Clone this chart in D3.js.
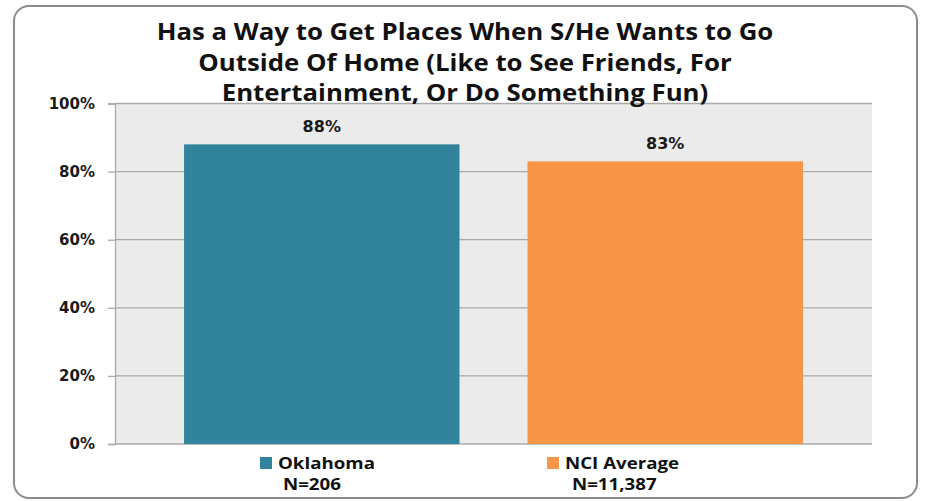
<!DOCTYPE html>
<html>
<head>
<meta charset="utf-8">
<script src="https://cdn.jsdelivr.net/npm/d3@7"></script>
<style>
  html, body { margin: 0; padding: 0; background: #ffffff; }
  svg { display: block; }
</style>
</head>
<body>
<svg id="chart" width="926" height="501"></svg>
<script>
// ---- data ----
const titleLines = [
  "Has a Way to Get Places When S/He Wants to Go",
  "Outside Of Home (Like to See Friends, For",
  "Entertainment, Or Do Something Fun)"
];
const categories = ["Oklahoma", "NCI Average"];
const values = [0.88, 0.83];
const valueLabels = ["88%", "83%"];
const sampleSizes = ["N=206", "N=11,387"];
const yTicks = [0, 0.2, 0.4, 0.6, 0.8, 1.0];
const colors = ["#31849B", "#F79646"];

// ---- layout ----
const plot = { left: 115, right: 872, top: 103.5, bottom: 444 };
const svg = d3.select("#chart");

// outer frame
svg.append("rect")
  .attr("x", 14).attr("y", 6).attr("width", 903).attr("height", 492)
  .attr("rx", 15).attr("ry", 15)
  .attr("fill", "#ffffff").attr("stroke", "#8c8c8c").attr("stroke-width", 2);

const x = d3.scaleBand().domain(categories)
  .range([plot.left, plot.right]).paddingInner(0.198).paddingOuter(0.201);
const y = d3.scaleLinear().domain([0, 1]).range([plot.bottom, plot.top]);

// plot background
svg.append("rect")
  .attr("x", plot.left).attr("y", plot.top)
  .attr("width", plot.right - plot.left).attr("height", plot.bottom - plot.top)
  .attr("fill", "#ebebeb");

// gridlines
svg.append("g").selectAll("line").data(yTicks).join("line")
  .attr("x1", plot.left).attr("x2", plot.right)
  .attr("y1", d => y(d)).attr("y2", d => y(d))
  .attr("stroke", "#a9a9a9").attr("stroke-width", 1.3);

// y axis
const yAxis = d3.axisLeft(y).tickValues(yTicks).tickFormat(d3.format(".0%"))
  .tickSize(7).tickPadding(13);
const gy = svg.append("g").attr("transform", `translate(${plot.left},0)`).call(yAxis);
gy.select(".domain").attr("stroke", "#a9a9a9").attr("stroke-width", 1.3);
gy.selectAll(".tick line").attr("stroke", "#a9a9a9").attr("stroke-width", 1.3);
gy.selectAll(".tick text")
  .attr("font-family", "'DejaVu Sans', Verdana, sans-serif")
  .attr("font-weight", "bold").attr("font-size", 15).attr("fill", "#1a1a1a");

// bars
svg.append("g").selectAll("rect").data(categories).join("rect")
  .attr("x", d => x(d)).attr("width", x.bandwidth())
  .attr("y", (d, i) => y(values[i]))
  .attr("height", (d, i) => plot.bottom - y(values[i]))
  .attr("fill", (d, i) => colors[i]);

// value labels
svg.append("g").selectAll("text").data(categories).join("text")
  .attr("x", d => x(d) + x.bandwidth() / 2)
  .attr("y", (d, i) => y(values[i]) - 12.5)
  .attr("text-anchor", "middle")
  .attr("font-family", "'DejaVu Sans', Verdana, sans-serif")
  .attr("font-weight", "bold").attr("font-size", 16).attr("fill", "#1a1a1a")
  .text((d, i) => valueLabels[i]);

// helper: measure text width
function measure(str, size) {
  const t = svg.append("text")
    .attr("font-family", "'Open Sans', sans-serif").attr("font-weight", 700)
    .attr("font-size", size).text(str);
  const w = t.node().getComputedTextLength();
  t.remove();
  return w;
}

// title (one multi-line text, horizontally widened like the original)
const titleSize = 22.5;
const kT = 617 / measure(titleLines[0], titleSize);
const titleBaselines = [40.5, 71, 101.5];
const titleText = svg.append("g")
  .attr("transform", `translate(465,0) scale(${kT},1)`)
  .append("text")
  .attr("font-family", "'Open Sans', sans-serif").attr("font-weight", 700)
  .attr("font-size", titleSize).attr("fill", "#111").attr("text-anchor", "middle");
titleText.selectAll("tspan").data(titleLines).join("tspan")
  .attr("x", 0).attr("y", (d, i) => titleBaselines[i]).text(d => d);

// legend
const legendX = [260, 547];
const legendTextX = [278, 565];
const legendNX = [283, 572];
const legSize = 16.5;
const kL = 97 / measure(categories[0], legSize);
categories.forEach((c, i) => {
  svg.append("rect").attr("x", legendX[i]).attr("y", 457)
    .attr("width", 12).attr("height", 12).attr("fill", colors[i]);
  const t = svg.append("g")
    .attr("transform", `translate(${legendTextX[i]},0) scale(${kL},1)`)
    .append("text")
    .attr("font-family", "'Open Sans', sans-serif").attr("font-weight", 700)
    .attr("font-size", legSize).attr("fill", "#111");
  t.append("tspan").attr("x", 0).attr("y", 469).text(c);
  t.append("tspan").attr("x", (legendNX[i] - legendTextX[i]) / kL).attr("y", 490).text(sampleSizes[i]);
});
</script>
</body>
</html>
